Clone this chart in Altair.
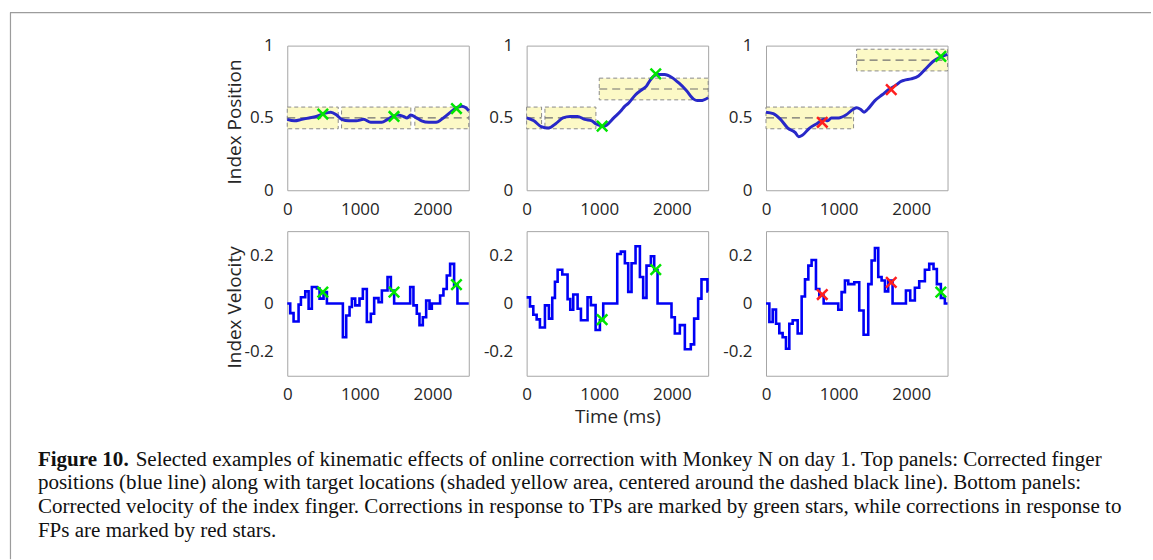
import altair as alt
import pandas as pd

# ---------------- data ----------------
T_DOMAIN = [0, 2500]
X_TICKS = [0, 1000, 2000]
POS_TICKS = [0, 0.5, 1]
VEL_TICKS = [-0.2, 0, 0.2]
TARGET_HALF = 0.075

# position traces (ms, normalized position)
pos1_t = [0, 100, 200, 300, 400, 500, 600, 680, 750, 850, 950, 1050, 1150, 1300, 1380,
          1450, 1520, 1600, 1650, 1700, 1780, 1850, 1950, 2050, 2150, 2250, 2300, 2400, 2460, 2500]
pos1_v = [0.49, 0.48, 0.49, 0.50, 0.51, 0.53, 0.54, 0.52, 0.49, 0.48, 0.48, 0.49, 0.47, 0.47, 0.49,
          0.51, 0.52, 0.51, 0.50, 0.52, 0.50, 0.48, 0.47, 0.47, 0.50, 0.54, 0.56, 0.58, 0.57, 0.55]

pos2_t = [0, 100, 200, 300, 400, 500, 600, 700, 800, 900, 950, 1000, 1050, 1100, 1200, 1300,
          1350, 1400, 1500, 1600, 1650, 1700, 1800, 1900, 2000, 2100, 2200, 2300, 2350, 2400, 2500]
pos2_v = [0.50, 0.48, 0.44, 0.43, 0.46, 0.50, 0.51, 0.51, 0.49, 0.48, 0.46, 0.45, 0.44, 0.45, 0.50, 0.55,
          0.58, 0.60, 0.66, 0.70, 0.72, 0.76, 0.80, 0.80, 0.78, 0.74, 0.69, 0.63, 0.62, 0.62, 0.64]

pos3_t = [0, 100, 200, 300, 400, 450, 500, 600, 700, 800, 850, 900, 1000, 1100, 1200, 1250, 1300,
          1350, 1400, 1500, 1600, 1700, 1800, 1850, 1900, 2000, 2100, 2200, 2300, 2400, 2500]
pos3_v = [0.54, 0.53, 0.49, 0.43, 0.40, 0.37, 0.38, 0.43, 0.46, 0.49, 0.48, 0.50, 0.50, 0.52, 0.56, 0.57, 0.56,
          0.54, 0.56, 0.62, 0.66, 0.70, 0.73, 0.75, 0.76, 0.77, 0.79, 0.84, 0.89, 0.92, 0.94]

# target windows: start, end, centre
tgt1_start = [0, 748, 1757]
tgt1_end = [702, 1702, 2500]
tgt1_center = [0.5, 0.5, 0.5]
tgt2_start = [0, 252, 1000]
tgt2_end = [206, 954, 2500]
tgt2_center = [0.5, 0.5, 0.7]
tgt3_start = [0, 1248]
tgt3_end = [1206, 2500]
tgt3_center = [0.5, 0.9]

# velocity step traces (change times, values)
vel1_t = [0, 41, 87, 156, 188, 248, 294, 339, 408, 445, 500, 546, 766, 812, 858, 890, 936, 995, 1041, 1096,
          1151, 1197, 1257, 1303, 1381, 1427, 1472, 1693, 1738, 1784, 1821, 1867, 1913, 1959, 1991, 2105,
          2151, 2197, 2243, 2298, 2344, 2500]
vel1_v = [0, -0.04, -0.075, -0.005, 0.026, 0.05, -0.022, 0.068, 0.062, 0.02, 0.047, 0, -0.14, -0.05, -0.015,
          0.02, -0.008, 0.02, 0.06, -0.077, -0.043, 0.022, 0.005, 0.054, 0.11, 0.054, 0, 0.068, -0.008,
          -0.043, -0.09, -0.057, 0.012, -0.022, 0, 0.033, 0.06, 0.116, 0.164, 0.075, 0, 0]

vel2_t = [0, 46, 92, 138, 183, 252, 307, 353, 390, 427, 491, 564, 601, 642, 702, 748, 839, 885, 950, 1009,
          1055, 1248, 1298, 1353, 1399, 1445, 1500, 1560, 1605, 1651, 1711, 1757, 1803, 1995, 2041, 2110,
          2179, 2261, 2307, 2362, 2408, 2490, 2500]
vel2_v = [0.025, -0.012, -0.047, -0.066, -0.10, -0.008, -0.063, 0.023, 0.09, 0.14, 0.12, 0.018, -0.026,
          0.037, -0.022, -0.07, 0.026, -0.007, -0.11, -0.07, 0, 0.205, 0.215, 0.167, 0.048, 0.167, 0.237,
          0.11, 0.023, 0.157, 0.196, 0.137, 0, -0.057, -0.125, -0.09, -0.19, -0.17, -0.063, 0.02, 0.10,
          0.05, 0.05]

vel3_t = [0, 46, 92, 138, 183, 229, 275, 321, 367, 436, 491, 537, 583, 628, 688, 734, 794, 995, 1041, 1087,
          1133, 1216, 1284, 1344, 1408, 1454, 1500, 1546, 1592, 1638, 1683, 1743, 1927, 1986, 2050, 2110,
          2188, 2248, 2307, 2353, 2408, 2463, 2500]
vel3_v = [0, -0.077, -0.025, -0.084, -0.123, -0.14, -0.188, -0.084, -0.07, -0.125, 0.029, 0.10, 0.157,
          0.18, 0.06, 0.033, 0, -0.026, 0.047, 0.095, 0.08, 0.088, -0.029, -0.13, 0.08, 0.178, 0.23, 0.11,
          0.095, 0.05, 0.095, 0, 0.054, 0.012, 0.065, 0.092, 0.14, 0.164, 0.143, 0.08, 0.023, 0, 0]

# corrections (time, value, kind)
corr1_t = [490, 1470, 2330]
corr1_kind = ["TP", "TP", "TP"]
corr1_pos = [0.527, 0.51, 0.565]
corr1_vel = [0.047, 0.047, 0.078]
corr2_t = [1040, 1778]
corr2_kind = ["TP", "TP"]
corr2_pos = [0.443, 0.805]
corr2_vel = [-0.067, 0.14]
corr3_t = [775, 1725, 2408]
corr3_kind = ["FP", "FP", "TP"]
corr3_pos = [0.47, 0.695, 0.925]
corr3_vel = [0.037, 0.087, 0.047]

caption_bold = "Figure 10."
caption_lines = [
    "Selected examples of kinematic effects of online correction with Monkey N on day 1. Top panels: Corrected finger",
    "positions (blue line) along with target locations (shaded yellow area, centered around the dashed black line). Bottom panels:",
    "Corrected velocity of the index finger. Corrections in response to TPs are marked by green stars, while corrections in response to",
    "FPs are marked by red stars.",
]

# ---------------- styling ----------------
W, H = 182, 145
FONT = "Open Sans"
CAP_FONT = "Liberation Serif"
CAP_SIZE = 21.1
XSHAPE = "M-1,-1L1,1M-1,1L1,-1"
kind_scale = alt.Scale(domain=["TP", "FP"], range=["#00e600", "#ff1f1f"])
vel_label = "datum.value < 0 ? '-' + format(-datum.value, '~g') : format(datum.value, '~g')"


def x_enc(field, title=None):
    kw = dict(values=X_TICKS, labelFlush=False, labelPadding=11, format="d")
    if title:
        kw.update(title=title, titleY=47, titleX=W / 2, titleBaseline="alphabetic", titleAlign="center")
    return alt.X(field, type="quantitative", scale=alt.Scale(domain=T_DOMAIN, nice=False, zero=False),
                 axis=alt.Axis(**kw), title=title)


def y_enc(field, domain, values, title=None, expr=None):
    kw = dict(values=values, labelPadding=14)
    if expr:
        kw["labelExpr"] = expr
    else:
        kw["format"] = "~g"
    if title:
        kw.update(title=title, titleX=-53, titleY=76, titleAngle=270, titleBaseline="middle",
                  titleAlign="center")
    return alt.Y(field, type="quantitative", scale=alt.Scale(domain=domain, nice=False, zero=False),
                 axis=alt.Axis(**kw), title=title)


def pos_panel(t, v, ts, te, tc, ct, cv, ck, ytitle=None, extra=None):
    boxes = pd.DataFrame({"t0": ts, "t1": te, "c": tc})
    boxes["lo"] = boxes["c"] - TARGET_HALF
    boxes["hi"] = boxes["c"] + TARGET_HALF
    line = pd.DataFrame({"t": t, "v": v})
    marks = pd.DataFrame({"t": ct, "v": cv, "kind": ck})
    ydom = [0, 1]
    rect = alt.Chart(boxes).mark_rect(fill="#fcf9c6", stroke="#8a8a8a", strokeDash=[4, 3],
                                      strokeWidth=1).encode(
        x=x_enc("t0"), x2="t1", y=y_enc("lo", ydom, POS_TICKS, ytitle), y2="hi")
    mid = alt.Chart(boxes).mark_rule(color="#707070", strokeDash=[8, 5], strokeWidth=1.2).encode(
        x=x_enc("t0"), x2="t1", y=y_enc("c", ydom, POS_TICKS, ytitle))
    ln = alt.Chart(line).mark_line(color="#2828c8", strokeWidth=3, interpolate="monotone").encode(
        x=x_enc("t"), y=y_enc("v", ydom, POS_TICKS, ytitle))
    pt = alt.Chart(marks).mark_point(shape=XSHAPE, filled=False, strokeWidth=2.5, size=110,
                                     opacity=1).encode(
        x=x_enc("t"), y=y_enc("v", ydom, POS_TICKS, ytitle),
        color=alt.Color("kind:N", scale=kind_scale, legend=None))
    layers = [rect, mid, ln, pt] + (extra or [])
    return alt.layer(*layers).properties(width=W, height=H)


def vel_panel(t, v, ct, cv, ck, ytitle=None, xtitle=None):
    line = pd.DataFrame({"t": t, "v": v})
    marks = pd.DataFrame({"t": ct, "v": cv, "kind": ck})
    ydom = [-0.3, 0.3]
    ln = alt.Chart(line).mark_line(color="#0000f5", strokeWidth=2.6, interpolate="step-after").encode(
        x=x_enc("t", xtitle), y=y_enc("v", ydom, VEL_TICKS, ytitle, vel_label))
    pt = alt.Chart(marks).mark_point(shape=XSHAPE, filled=False, strokeWidth=2.5, size=110,
                                     opacity=1).encode(
        x=x_enc("t", xtitle), y=y_enc("v", ydom, VEL_TICKS, ytitle, vel_label),
        color=alt.Color("kind:N", scale=kind_scale, legend=None))
    return alt.layer(ln, pt).properties(width=W, height=H)


# caption and page frame, drawn relative to the first panel's origin
one = pd.DataFrame({"k": [0]})
frame_col = "#9c9c9c"
extra = [
    alt.Chart(one).mark_rule(color=frame_col, strokeWidth=1.2).encode(
        x=alt.value(-278), x2=alt.value(866), y=alt.value(-33)),
    alt.Chart(one).mark_rule(color=frame_col, strokeWidth=1.2).encode(
        x=alt.value(-277.5), y=alt.value(-33), y2=alt.value(515)),
    alt.Chart(pd.DataFrame({"s": [caption_bold]})).mark_text(
        font=CAP_FONT, fontSize=CAP_SIZE, fontWeight="bold", align="left", baseline="alphabetic",
        color="#111111").encode(text="s:N", x=alt.value(-250), y=alt.value(421)),
]
cap_y = [421, 445, 469, 493]
cap_x = [-152, -250, -250, -250]
for s, yy, xx in zip(caption_lines, cap_y, cap_x):
    extra.append(alt.Chart(pd.DataFrame({"s": [s]})).mark_text(
        font=CAP_FONT, fontSize=CAP_SIZE, align="left", baseline="alphabetic",
        color="#111111").encode(text="s:N", x=alt.value(xx), y=alt.value(yy)))

p1 = pos_panel(pos1_t, pos1_v, tgt1_start, tgt1_end, tgt1_center, corr1_t, corr1_pos, corr1_kind,
               ytitle="Index Position", extra=extra)
p2 = pos_panel(pos2_t, pos2_v, tgt2_start, tgt2_end, tgt2_center, corr2_t, corr2_pos, corr2_kind)
p3 = pos_panel(pos3_t, pos3_v, tgt3_start, tgt3_end, tgt3_center, corr3_t, corr3_pos, corr3_kind)
p4 = vel_panel(vel1_t, vel1_v, corr1_t, corr1_vel, corr1_kind, ytitle="Index Velocity")
p5 = vel_panel(vel2_t, vel2_v, corr2_t, corr2_vel, corr2_kind, xtitle="Time (ms)")
p6 = vel_panel(vel3_t, vel3_v, corr3_t, corr3_vel, corr3_kind)

chart = alt.concat(p1, p2, p3, p4, p5, p6, columns=3, spacing={"row": 41, "column": 58},
                   bounds="flush").properties(
    padding={"left": 8, "top": 10, "right": 0, "bottom": 0},
    background="white",
).configure_view(stroke="#a6a6a6", strokeWidth=1).configure_axis(
    labelFont=FONT, labelFontSize=17, labelColor="#262626", titleFont=FONT, titleFontSize=19,
    titleColor="#262626", titleFontWeight="normal", grid=False, domain=False, ticks=False, tickSize=0,
    labelOverlap=False,
)

chart.save("out.html", embed_options={"renderer": "svg", "actions": False})
